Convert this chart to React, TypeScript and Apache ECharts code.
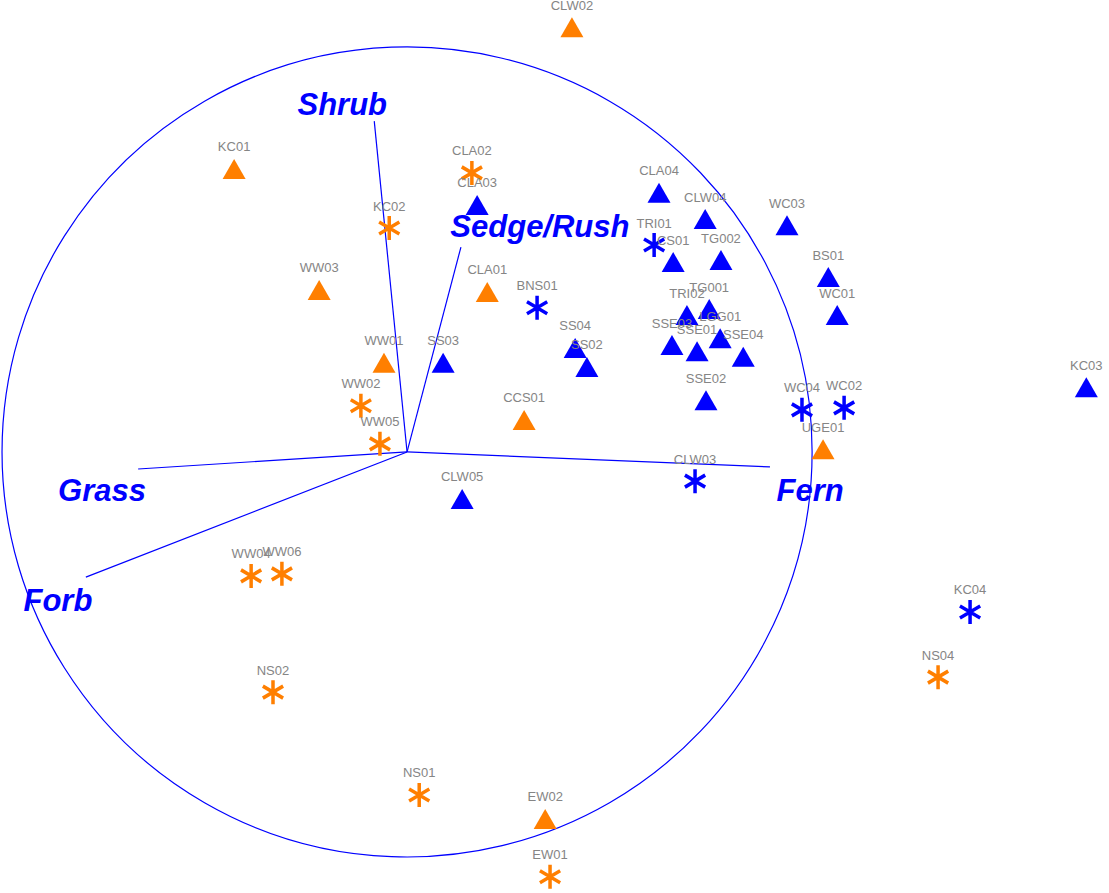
import React, { useEffect, useRef } from "react";
import * as echarts from "echarts";

// Site scores (ordination units, circle radius = 1)
const orangeTriangles: [string, number, number][] = [
  ["CLW02", 0.407, 1.049],
  ["KC01", -0.427, 0.699],
  ["WW03", -0.217, 0.4],
  ["WW01", -0.057, 0.22],
  ["CLA01", 0.198, 0.395],
  ["CCS01", 0.289, 0.079],
  ["UGE01", 1.027, 0.007],
  ["EW02", 0.341, -0.906],
];

const orangeAsterisks: [string, number, number][] = [
  ["CLA02", 0.16, 0.689],
  ["KC02", -0.044, 0.553],
  ["WW02", -0.114, 0.114],
  ["WW05", -0.067, 0.02],
  ["WW04", -0.385, -0.306],
  ["WW06", -0.309, -0.301],
  ["NS02", -0.331, -0.593],
  ["NS01", 0.03, -0.847],
  ["EW01", 0.353, -1.049],
  ["NS04", 1.311, -0.556],
];

const blueTriangles: [string, number, number][] = [
  ["CLA03", 0.173, 0.61],
  ["SS03", 0.089, 0.22],
  ["SS04", 0.415, 0.257],
  ["SS02", 0.444, 0.21],
  ["CLW05", 0.136, -0.116],
  ["CLA04", 0.622, 0.64],
  ["CLW04", 0.736, 0.575],
  ["WC03", 0.938, 0.56],
  ["CS01", 0.657, 0.469],
  ["TG002", 0.775, 0.474],
  ["TRI02", 0.691, 0.338],
  ["TG001", 0.746, 0.353],
  ["LGG01", 0.773, 0.281],
  ["SSE03", 0.654, 0.264],
  ["SSE01", 0.716, 0.249],
  ["SSE04", 0.83, 0.235],
  ["SSE02", 0.738, 0.128],
  ["BS01", 1.04, 0.432],
  ["WC01", 1.062, 0.338],
  ["KC03", 1.677, 0.16],
];

const blueAsterisks: [string, number, number][] = [
  ["TRI01", 0.61, 0.511],
  ["BNS01", 0.321, 0.356],
  ["WC04", 0.975, 0.104],
  ["WC02", 1.079, 0.109],
  ["CLW03", 0.711, -0.072],
  ["KC04", 1.39, -0.395],
];

// Vegetation-type vectors (end points) and their label anchors
const vectorNames = ["Shrub", "Sedge/Rush", "Grass", "Forb", "Fern"];
const vectorEndX = [-0.081, 0.133, -0.664, -0.793, 0.896];
const vectorEndY = [0.817, 0.506, -0.042, -0.309, -0.037];
const vectorLabelX = [-0.16, 0.328, -0.753, -0.862, 0.995];
const vectorLabelY = [0.859, 0.556, -0.094, -0.366, -0.094];

const circleRadius = 1;

const ORANGE = "#ff7f00";
const BLUE = "#0000ff";
const GREY = "#858585";

const ASTERISK =
  "path://M-1.8,-12L1.8,-12L1.8,12L-1.8,12Z" +
  "M9.49,7.56L-11.29,-4.44L-9.49,-7.56L11.29,4.44Z" +
  "M11.29,-4.44L-9.49,7.56L-11.29,4.44L9.49,-7.56Z";

const pointLabel = {
  show: true,
  position: "inside" as const,
  offset: [0, -22],
  color: GREY,
  opacity: 1,
  fontSize: 13,
  fontFamily: "'Liberation Sans', Arial, sans-serif",
  formatter: (p: any) => p.data[2],
};

function pointSeries(
  rows: [string, number, number][],
  color: string,
  asterisk: boolean
) {
  return {
    type: "scatter",
    silent: true,
    symbol: asterisk ? ASTERISK : "triangle",
    symbolSize: asterisk ? [22, 24] : [23, 20],
    itemStyle: { color, opacity: 1 },
    label: pointLabel,
    data: rows.map((r) => [r[1], r[2], r[0]]),
    z: 5,
  };
}

export default function App() {
  const ref = useRef<HTMLDivElement>(null);

  useEffect(() => {
    if (!ref.current) return;
    const chart = echarts.init(ref.current, null, { renderer: "svg" });
    chart.setOption({
      animation: false,
      backgroundColor: "#ffffff",
      grid: { left: 0, right: 0, top: 0, bottom: 0, containLabel: false },
      xAxis: { type: "value", min: -1.005, max: 1.733, show: false },
      yAxis: { type: "value", min: -1.089, max: 1.116, show: false },
      series: [
        {
          type: "custom",
          silent: true,
          data: [[0, 0, circleRadius]],
          renderItem: (_params: any, api: any) => {
            const c = api.coord([api.value(0), api.value(1)]);
            const r = api.size([api.value(2), 0])[0];
            return {
              type: "circle",
              shape: { cx: c[0], cy: c[1], r },
              style: { fill: "none", stroke: BLUE, lineWidth: 1.2 },
            };
          },
          z: 1,
        },
        {
          type: "lines",
          coordinateSystem: "cartesian2d",
          silent: true,
          lineStyle: { color: BLUE, width: 1.2, opacity: 1 },
          data: vectorNames.map((_n, i) => ({
            coords: [
              [0, 0],
              [vectorEndX[i], vectorEndY[i]],
            ],
          })),
          z: 2,
        },
        {
          type: "scatter",
          silent: true,
          symbolSize: 0,
          itemStyle: { opacity: 1, color: BLUE },
          data: vectorNames.map((n, i) => [vectorLabelX[i], vectorLabelY[i], n]),
          label: {
            show: true,
            position: "inside",
            color: BLUE,
            opacity: 1,
            fontSize: 31,
            fontWeight: "bold",
            fontStyle: "italic",
            fontFamily: "'Liberation Sans', Arial, sans-serif",
            formatter: (p: any) => p.data[2],
          },
          z: 3,
        },
        pointSeries(orangeTriangles, ORANGE, false),
        pointSeries(orangeAsterisks, ORANGE, true),
        pointSeries(blueTriangles, BLUE, false),
        pointSeries(blueAsterisks, BLUE, true),
      ],
    });
    return () => chart.dispose();
  }, []);

  return (
    <div
      ref={ref}
      style={{
        position: "fixed",
        left: 0,
        top: 0,
        width: 1109,
        height: 893,
        background: "#fff",
      }}
    />
  );
}
